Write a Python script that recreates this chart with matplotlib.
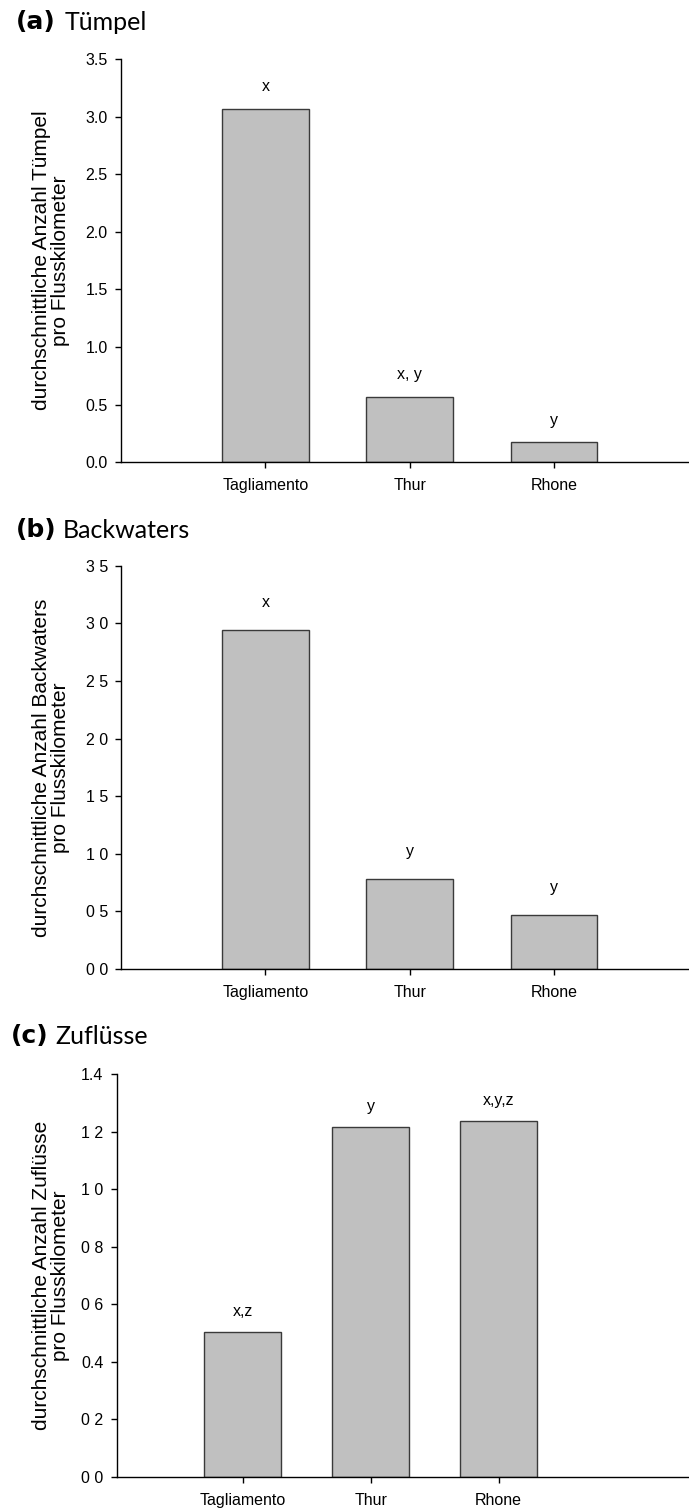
import matplotlib
matplotlib.use('Agg')
import matplotlib.pyplot as plt
import numpy as np

plt.rcParams['font.family'] = ['Liberation Sans', 'DejaVu Sans']

rivers = ['Tagliamento', 'Thur', 'Rhone']

tuempel = [3.07, 0.57, 0.175]
backwaters = [2.94, 0.78, 0.466]
zufluesse = [0.502, 1.215, 1.235]

letters_a = ['x', 'x, y', 'y']
letters_b = ['x', 'y', 'y']
letters_c = ['x,z', 'y', 'x,y,z']

yticks_a = [0.0, 0.5, 1.0, 1.5, 2.0, 2.5, 3.0, 3.5]
yticklabels_a = ['0.0', '0.5', '1.0', '1.5', '2.0', '2.5', '3.0', '3.5']
yticks_b = [0.0, 0.5, 1.0, 1.5, 2.0, 2.5, 3.0, 3.5]
yticklabels_b = ['0 0', '0 5', '1 0', '1 5', '2 0', '2 5', '3 0', '3 5']
yticks_c = [0.0, 0.2, 0.4, 0.6, 0.8, 1.0, 1.2, 1.4]
yticklabels_c = ['0 0', '0 2', '0.4', '0 6', '0 8', '1 0', '1 2', '1.4']

W, H = 689, 1508
fig = plt.figure(figsize=(W / 100, H / 100), dpi=100)


def px_axes(left, top, bottom):
    return fig.add_axes([left / W, 1 - bottom / H, (W - left) / W, (bottom - top) / H])


panels = [
    # (left, top, bottom, xlim, values, letters, ticks, ticklabels, ylim, ylabel, offset)
    (121, 59, 462.3, (-1.0, 2.934), tuempel, letters_a, yticks_a, yticklabels_a, 3.5,
     'durchschnittliche Anzahl Tümpel\npro Flusskilometer', 22, '(a)', 'Tümpel', 16, 65, 22),
    (121, 565.7, 969, (-1.0, 2.934), backwaters, letters_b, yticks_b, yticklabels_b, 3.5,
     'durchschnittliche Anzahl Backwaters\npro Flusskilometer', 28, '(b)', 'Backwaters', 16, 63, 530),
    (116.7, 1074, 1476.7, (-0.984, 3.487), zufluesse, letters_c, yticks_c, yticklabels_c, 1.4,
     'durchschnittliche Anzahl Zuflüsse\npro Flusskilometer', 21, '(c)', 'Zuflüsse', 11, 55, 1036),
]

x = np.arange(len(rivers))
for (left, top, bottom, xlim, vals, letters, ticks, tlabels, ymax, ylabel, off,
     tag, name, tag_x, name_x, title_y) in panels:
    ax = px_axes(left, top, bottom)
    ax.bar(x, vals, width=0.6, color='#c0c0c0', edgecolor='#3a3a3a', linewidth=1.0, zorder=2)
    for xi, v, s in zip(x, vals, letters):
        ax.annotate(s, (xi, v), xytext=(0, off * 0.72), textcoords='offset points',
                    ha='center', va='center', fontsize=11.5)
    ax.set_xlim(*xlim)
    ax.set_ylim(0, ymax)
    ax.set_xticks(x)
    ax.set_xticklabels(rivers, fontsize=11.5)
    ax.set_yticks(ticks)
    ax.set_yticklabels(tlabels, fontsize=11.5)
    ax.spines['top'].set_visible(False)
    ax.spines['right'].set_visible(False)
    ax.spines['left'].set_linewidth(1.0)
    ax.spines['bottom'].set_linewidth(1.0)
    ax.tick_params(axis='both', direction='out', length=4.5, width=1.0, pad=5)
    ax.tick_params(axis='x', pad=7)
    fig.text(51 / W, 1 - (top + bottom) / 2 / H, ylabel, rotation=90, ha='center', va='center',
             fontsize=15, linespacing=1.0)
    fig.text(tag_x / W, 1 - title_y / H, tag, fontsize=18, fontweight='bold', ha='left', va='center',
             family='DejaVu Sans')
    fig.text(name_x / W, 1 - title_y / H, name, fontsize=18, ha='left', va='center', family='Lato')

fig.savefig('out.png', dpi=100)
